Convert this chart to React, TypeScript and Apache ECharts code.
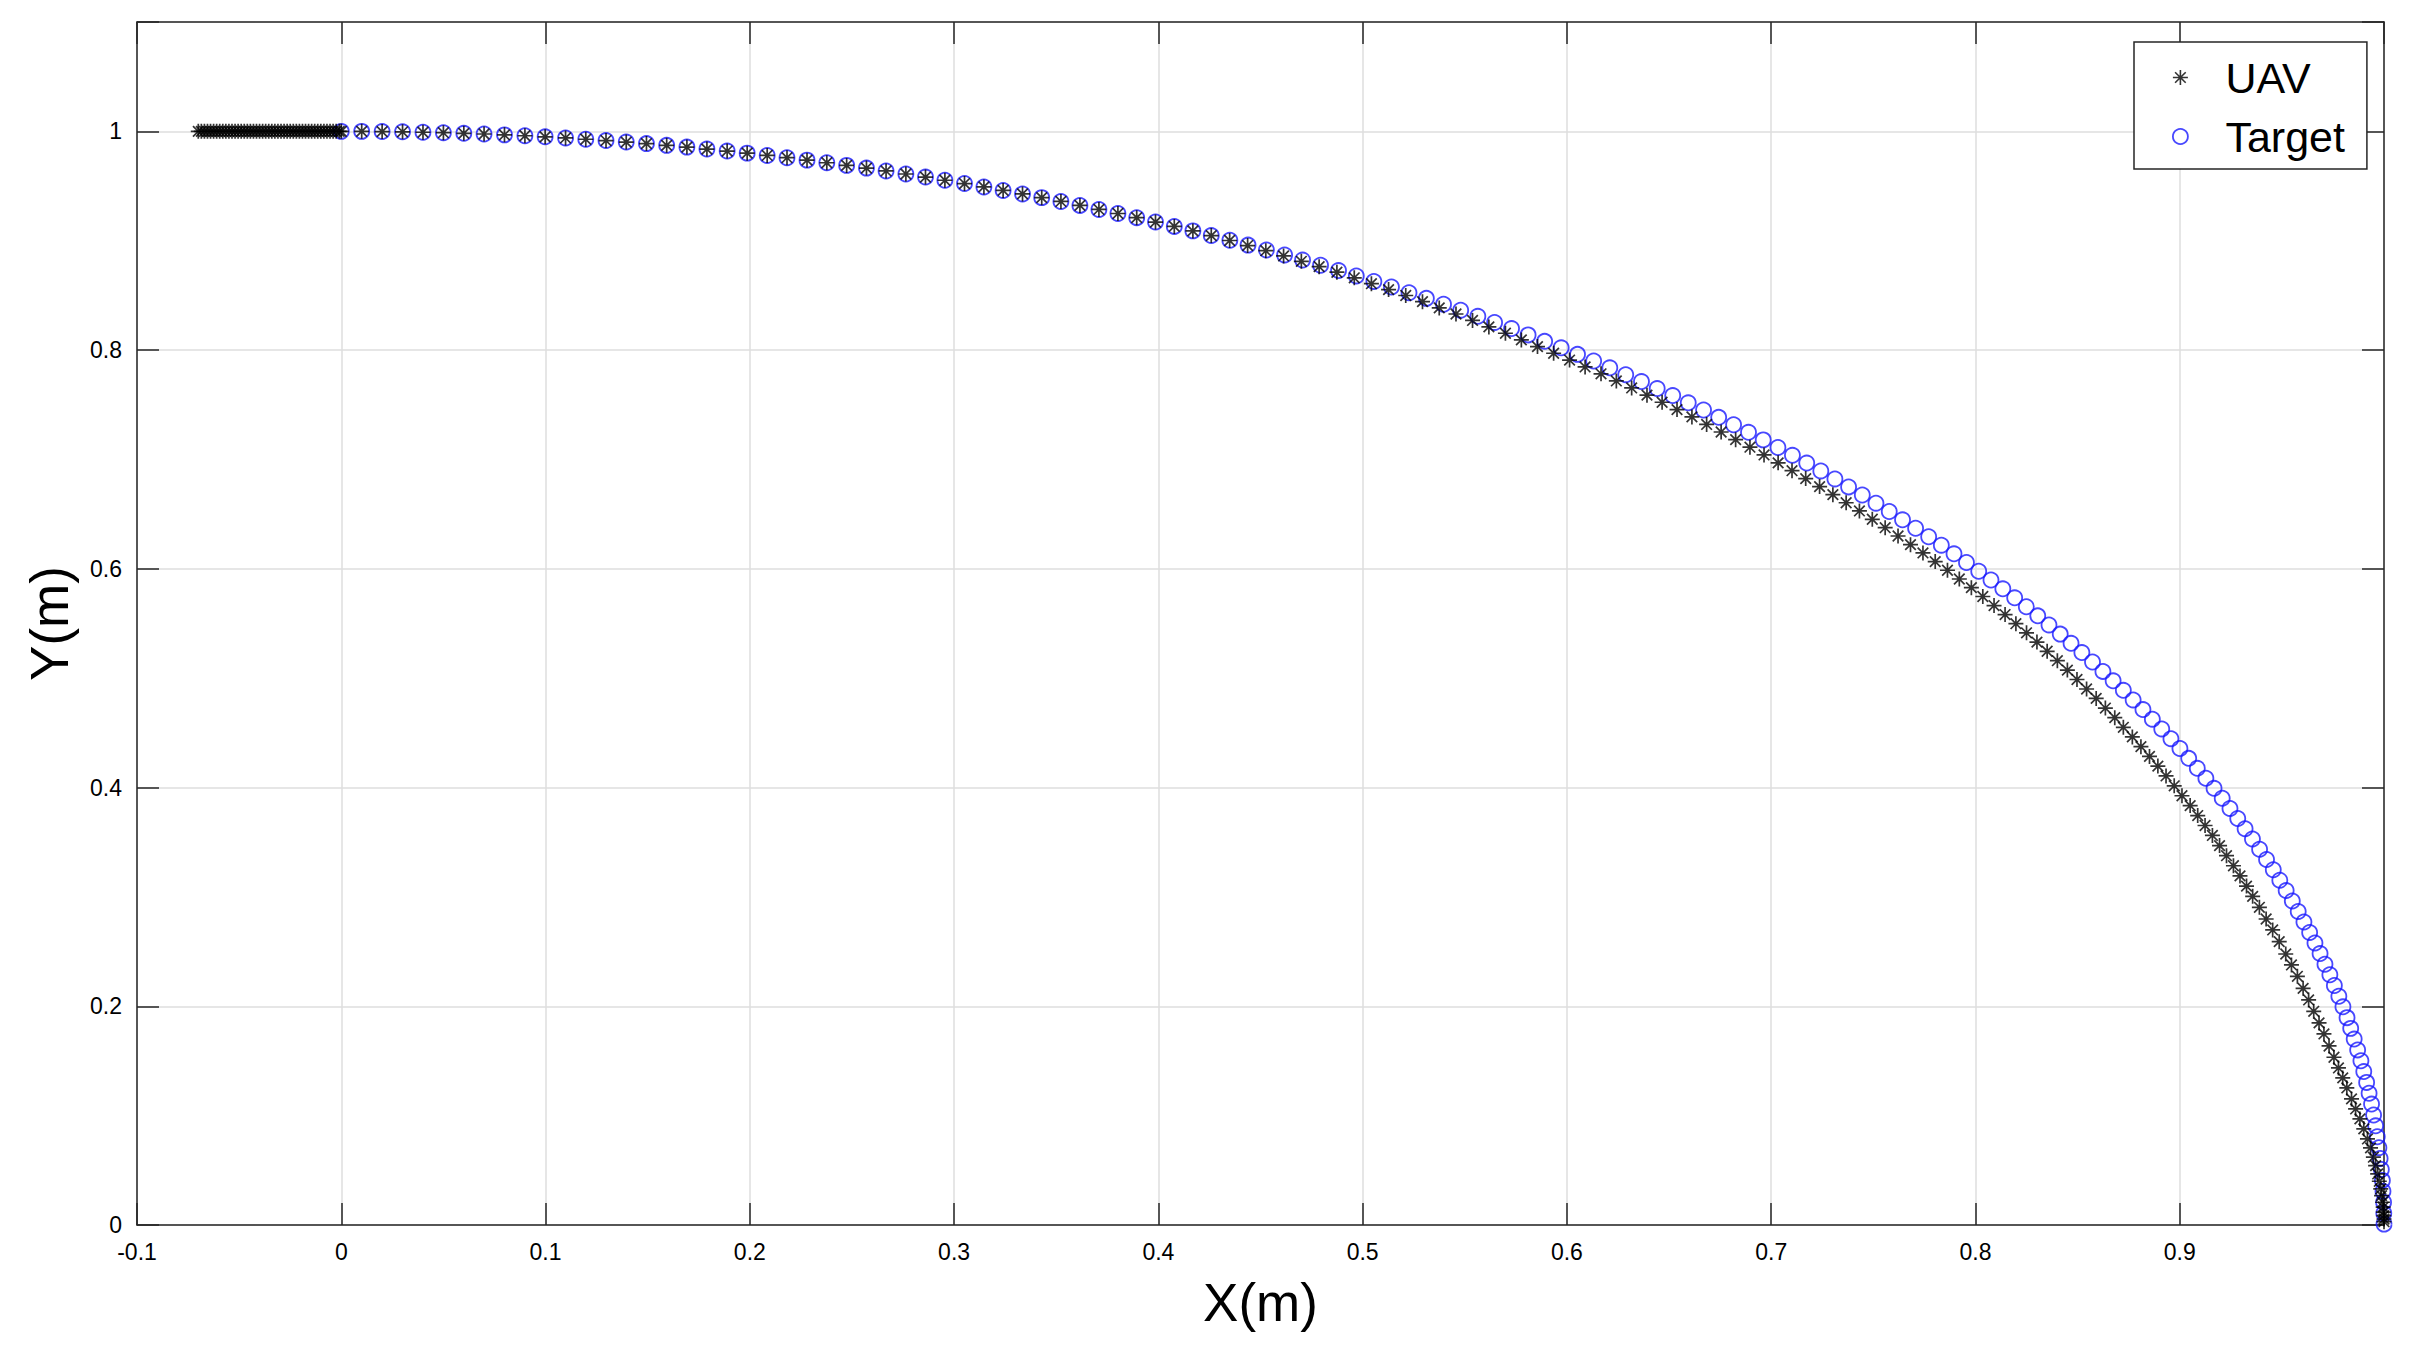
import React, { useEffect, useRef } from "react";
import * as echarts from "echarts";

// Target trajectory (blue circles)
const targetX = [
  0.0000, 0.0100, 0.0200, 0.0300, 0.0400, 0.0500, 0.0600, 0.0699, 0.0799, 0.0899,
  0.0998, 0.1098, 0.1197, 0.1296, 0.1395, 0.1494, 0.1593, 0.1692, 0.1790, 0.1889,
  0.1987, 0.2085, 0.2182, 0.2280, 0.2377, 0.2474, 0.2571, 0.2667, 0.2764, 0.2860,
  0.2955, 0.3051, 0.3146, 0.3240, 0.3335, 0.3429, 0.3523, 0.3616, 0.3709, 0.3802,
  0.3894, 0.3986, 0.4078, 0.4169, 0.4259, 0.4350, 0.4439, 0.4529, 0.4618, 0.4706,
  0.4794, 0.4882, 0.4969, 0.5055, 0.5141, 0.5227, 0.5312, 0.5396, 0.5480, 0.5564,
  0.5646, 0.5729, 0.5810, 0.5891, 0.5972, 0.6052, 0.6131, 0.6210, 0.6288, 0.6365,
  0.6442, 0.6518, 0.6594, 0.6669, 0.6743, 0.6816, 0.6889, 0.6961, 0.7033, 0.7104,
  0.7174, 0.7243, 0.7312, 0.7379, 0.7446, 0.7513, 0.7578, 0.7643, 0.7707, 0.7771,
  0.7833, 0.7895, 0.7956, 0.8016, 0.8076, 0.8134, 0.8192, 0.8249, 0.8305, 0.8360,
  0.8415, 0.8468, 0.8521, 0.8573, 0.8624, 0.8674, 0.8724, 0.8772, 0.8820, 0.8866,
  0.8912, 0.8957, 0.9001, 0.9044, 0.9086, 0.9128, 0.9168, 0.9208, 0.9246, 0.9284,
  0.9320, 0.9356, 0.9391, 0.9425, 0.9458, 0.9490, 0.9521, 0.9551, 0.9580, 0.9608,
  0.9636, 0.9662, 0.9687, 0.9711, 0.9735, 0.9757, 0.9779, 0.9799, 0.9819, 0.9837,
  0.9854, 0.9871, 0.9887, 0.9901, 0.9915, 0.9927, 0.9939, 0.9949, 0.9959, 0.9967,
  0.9975, 0.9981, 0.9987, 0.9992, 0.9995, 0.9998, 0.9999, 1.0000,
];
const targetY = [
  1.0000, 1.0000, 0.9998, 0.9996, 0.9992, 0.9988, 0.9982, 0.9976, 0.9968, 0.9960,
  0.9950, 0.9940, 0.9928, 0.9916, 0.9902, 0.9888, 0.9872, 0.9856, 0.9838, 0.9820,
  0.9801, 0.9780, 0.9759, 0.9737, 0.9713, 0.9689, 0.9664, 0.9638, 0.9610, 0.9582,
  0.9553, 0.9523, 0.9492, 0.9460, 0.9428, 0.9394, 0.9359, 0.9323, 0.9286, 0.9249,
  0.9211, 0.9171, 0.9131, 0.9090, 0.9047, 0.9004, 0.8960, 0.8915, 0.8870, 0.8823,
  0.8776, 0.8727, 0.8678, 0.8628, 0.8577, 0.8525, 0.8473, 0.8419, 0.8365, 0.8309,
  0.8253, 0.8197, 0.8139, 0.8080, 0.8021, 0.7961, 0.7900, 0.7838, 0.7775, 0.7712,
  0.7648, 0.7584, 0.7518, 0.7452, 0.7385, 0.7317, 0.7248, 0.7179, 0.7109, 0.7038,
  0.6967, 0.6895, 0.6822, 0.6749, 0.6675, 0.6600, 0.6524, 0.6448, 0.6371, 0.6293,
  0.6216, 0.6137, 0.6058, 0.5978, 0.5898, 0.5817, 0.5735, 0.5653, 0.5570, 0.5487,
  0.5403, 0.5319, 0.5234, 0.5148, 0.5062, 0.4976, 0.4889, 0.4801, 0.4713, 0.4625,
  0.4536, 0.4447, 0.4357, 0.4267, 0.4176, 0.4085, 0.3993, 0.3902, 0.3809, 0.3717,
  0.3624, 0.3530, 0.3436, 0.3342, 0.3248, 0.3153, 0.3058, 0.2963, 0.2867, 0.2771,
  0.2675, 0.2579, 0.2482, 0.2385, 0.2288, 0.2190, 0.2092, 0.1995, 0.1896, 0.1798,
  0.1700, 0.1601, 0.1502, 0.1403, 0.1304, 0.1205, 0.1106, 0.1006, 0.0907, 0.0807,
  0.0707, 0.0608, 0.0508, 0.0408, 0.0308, 0.0208, 0.0108, 0.0008,
];

// UAV approach segment (dense, along y = 1)
const uavApproachX = [
  -0.0700, -0.0685, -0.0670, -0.0655, -0.0640, -0.0625, -0.0610, -0.0595, -0.0580, -0.0565,
  -0.0550, -0.0535, -0.0520, -0.0505, -0.0490, -0.0475, -0.0460, -0.0445, -0.0430, -0.0415,
  -0.0400, -0.0385, -0.0370, -0.0355, -0.0340, -0.0325, -0.0310, -0.0295, -0.0280, -0.0265,
  -0.0250, -0.0235, -0.0220, -0.0205, -0.0190, -0.0175, -0.0160, -0.0145, -0.0130, -0.0115,
  -0.0100, -0.0085, -0.0070, -0.0055, -0.0040, -0.0025, -0.0010,
];
const uavApproachY = [
  1.0, 1.0, 1.0, 1.0, 1.0, 1.0, 1.0, 1.0, 1.0, 1.0,
  1.0, 1.0, 1.0, 1.0, 1.0, 1.0, 1.0, 1.0, 1.0, 1.0,
  1.0, 1.0, 1.0, 1.0, 1.0, 1.0, 1.0, 1.0, 1.0, 1.0,
  1.0, 1.0, 1.0, 1.0, 1.0, 1.0, 1.0, 1.0, 1.0, 1.0,
  1.0, 1.0, 1.0, 1.0, 1.0, 1.0, 1.0,
];

// UAV pursuit segment (black asterisks)
const uavArcX = [
  0.0000, 0.0100, 0.0200, 0.0300, 0.0400, 0.0500, 0.0600, 0.0699, 0.0799, 0.0899,
  0.0998, 0.1098, 0.1197, 0.1296, 0.1395, 0.1494, 0.1593, 0.1692, 0.1790, 0.1889,
  0.1987, 0.2085, 0.2182, 0.2280, 0.2377, 0.2474, 0.2571, 0.2667, 0.2764, 0.2860,
  0.2955, 0.3051, 0.3146, 0.3240, 0.3335, 0.3429, 0.3523, 0.3616, 0.3709, 0.3802,
  0.3894, 0.3986, 0.4078, 0.4169, 0.4259,
  0.4349, 0.4437, 0.4526, 0.4613, 0.4700, 0.4787, 0.4874, 0.4959, 0.5043, 0.5127,
  0.5211, 0.5293, 0.5375, 0.5457, 0.5538, 0.5618, 0.5699, 0.5777, 0.5856, 0.5935,
  0.6013, 0.6089, 0.6167, 0.6242, 0.6317, 0.6392, 0.6466, 0.6539, 0.6612, 0.6684,
  0.6755, 0.6826, 0.6896, 0.6965, 0.7034, 0.7102, 0.7169, 0.7237, 0.7302, 0.7367,
  0.7432, 0.7495, 0.7558, 0.7621, 0.7682, 0.7743, 0.7803, 0.7863, 0.7921, 0.7980,
  0.8036, 0.8091, 0.8145, 0.8198, 0.8250, 0.8301, 0.8351, 0.8401, 0.8450, 0.8497,
  0.8544, 0.8591, 0.8636, 0.8682, 0.8724, 0.8768, 0.8810, 0.8852, 0.8893, 0.8933,
  0.8973, 0.9011, 0.9051, 0.9088, 0.9124, 0.9160, 0.9195, 0.9229, 0.9263, 0.9295,
  0.9327, 0.9357,
  0.9390, 0.9423, 0.9455, 0.9487, 0.9519, 0.9547, 0.9576, 0.9604, 0.9631, 0.9656,
  0.9682, 0.9706, 0.9731, 0.9755, 0.9777, 0.9798, 0.9818, 0.9841, 0.9861, 0.9882,
  0.9901, 0.9919, 0.9934, 0.9948, 0.9959, 0.9969, 0.9977, 0.9984, 0.9988, 0.9993,
  0.9996, 0.9997, 0.9999, 1.0000, 1.0000,
];
const uavArcY = [
  1.0000, 1.0000, 0.9998, 0.9996, 0.9992, 0.9988, 0.9982, 0.9976, 0.9968, 0.9960,
  0.9950, 0.9940, 0.9928, 0.9916, 0.9902, 0.9888, 0.9872, 0.9856, 0.9838, 0.9820,
  0.9801, 0.9780, 0.9759, 0.9737, 0.9713, 0.9689, 0.9664, 0.9638, 0.9610, 0.9582,
  0.9553, 0.9523, 0.9492, 0.9460, 0.9428, 0.9394, 0.9359, 0.9323, 0.9286, 0.9249,
  0.9211, 0.9171, 0.9131, 0.9090, 0.9047,
  0.9002, 0.8956, 0.8909, 0.8861, 0.8812, 0.8763, 0.8712, 0.8661, 0.8607, 0.8553,
  0.8499, 0.8443, 0.8386, 0.8330, 0.8271, 0.8212, 0.8154, 0.8093, 0.8032, 0.7971,
  0.7909, 0.7846, 0.7783, 0.7718, 0.7654, 0.7588, 0.7523, 0.7456, 0.7389, 0.7320,
  0.7251, 0.7181, 0.7112, 0.7041, 0.6969, 0.6897, 0.6825, 0.6752, 0.6678, 0.6604,
  0.6529, 0.6453, 0.6376, 0.6300, 0.6221, 0.6145, 0.6066, 0.5987, 0.5907, 0.5828,
  0.5747, 0.5664, 0.5582, 0.5498, 0.5415, 0.5330, 0.5246, 0.5160, 0.5074, 0.4988,
  0.4901, 0.4815, 0.4727, 0.4639, 0.4551, 0.4463, 0.4374, 0.4285, 0.4196, 0.4106,
  0.4016, 0.3925, 0.3835, 0.3744, 0.3653, 0.3562, 0.3469, 0.3377, 0.3285, 0.3192,
  0.3099, 0.3005,
  0.2905, 0.2798, 0.2698, 0.2591, 0.2478, 0.2378, 0.2274, 0.2164, 0.2058, 0.1954,
  0.1848, 0.1747, 0.1637, 0.1534, 0.1436, 0.1345, 0.1253, 0.1153, 0.1061, 0.0970,
  0.0879, 0.0787, 0.0705, 0.0620, 0.0543, 0.0467, 0.0400, 0.0330, 0.0269, 0.0208,
  0.0163, 0.0117, 0.0086, 0.0055, 0.0030,
];

const seriesNames = ["UAV", "Target"];
const xRange = [-0.1, 1.0];
const yRange = [0, 1.1];
const xStep = 0.1;
const yStep = 0.2;

const ASTERISK =
  "path://M0,-10L0,10M-10,0L10,0M-7.07,-7.07L7.07,7.07M-7.07,7.07L7.07,-7.07";
const FONT = "'Liberation Sans', Arial, Helvetica, sans-serif";
const AXIS_COLOR = "#262626";
const BLUE = "#1a1aff";
const BLACK = "#000000";

export default function App() {
  const ref = useRef<HTMLDivElement>(null);

  useEffect(() => {
    if (!ref.current) return;
    const chart = echarts.init(ref.current, null, { renderer: "svg" });

    const target = targetX.map((x, i) => [x, targetY[i]]);
    const uavXs = uavApproachX.concat(uavArcX);
    const uavYs = uavApproachY.concat(uavArcY);
    const uav = uavXs.map((x, i) => [x, uavYs[i]]);

    const axisLine = {
      show: true,
      onZero: false,
      lineStyle: { color: AXIS_COLOR, width: 1.5 },
    };
    const axisTick = {
      show: true,
      inside: true,
      length: 22,
      lineStyle: { color: AXIS_COLOR, width: 1.5 },
    };
    const splitLine = { show: true, lineStyle: { color: "#dedede", width: 1.5 } };
    const fmt = (limit: number) => (v: number) =>
      v > limit ? "" : String(Math.round(v * 10) / 10);

    chart.setOption({
      animation: false,
      backgroundColor: "#ffffff",
      grid: { left: 137, right: 28, top: 22, bottom: 139, containLabel: false },
      legend: {
        orient: "vertical",
        left: 2134,
        top: 42,
        padding: [14, 22, 11, 38],
        itemWidth: 80,
        itemHeight: 15,
        itemGap: 16,
        backgroundColor: "#ffffff",
        borderColor: AXIS_COLOR,
        borderWidth: 1.5,
        selectedMode: false,
        textStyle: { fontSize: 43, color: "#000", fontFamily: FONT },
        data: [
          {
            name: seriesNames[0],
            icon: ASTERISK,
            itemStyle: { color: "rgba(0,0,0,0)", borderColor: BLACK, borderWidth: 1.6 },
          },
          {
            name: seriesNames[1],
            icon: "circle",
            itemStyle: { color: "rgba(0,0,0,0)", borderColor: BLUE, borderWidth: 1.8 },
          },
        ],
      },
      xAxis: [
        {
          type: "value",
          position: "bottom",
          min: xRange[0],
          max: xRange[1],
          interval: xStep,
          axisLine,
          axisTick,
          splitLine,
          axisLabel: {
            margin: 15,
            fontSize: 23,
            color: "#000",
            fontFamily: FONT,
            formatter: fmt(0.95),
          },
          name: "X(m)",
          nameLocation: "middle",
          nameGap: 51,
          nameTextStyle: { fontSize: 53, color: "#000", fontFamily: FONT },
        },
        {
          type: "value",
          position: "top",
          min: xRange[0],
          max: xRange[1],
          interval: xStep,
          axisLine,
          axisTick,
          axisLabel: { show: false },
          splitLine: { show: false },
        },
      ],
      yAxis: [
        {
          type: "value",
          position: "left",
          min: yRange[0],
          max: yRange[1],
          interval: yStep,
          axisLine,
          axisTick,
          splitLine,
          axisLabel: {
            margin: 15,
            fontSize: 23,
            color: "#000",
            fontFamily: FONT,
            formatter: fmt(1.05),
          },
          name: "Y(m)",
          nameLocation: "middle",
          nameGap: 61,
          nameTextStyle: { fontSize: 53, color: "#000", fontFamily: FONT },
        },
        {
          type: "value",
          position: "right",
          min: yRange[0],
          max: yRange[1],
          interval: yStep,
          axisLine,
          axisTick,
          axisLabel: { show: false },
          splitLine: { show: false },
        },
      ],
      series: [
        {
          name: seriesNames[1],
          type: "scatter",
          data: target,
          symbol: "circle",
          symbolSize: 15,
          clip: false,
          itemStyle: { color: "rgba(0,0,0,0)", borderColor: BLUE, borderWidth: 1.8 },
          emphasis: { disabled: true },
        },
        {
          name: seriesNames[0],
          type: "scatter",
          data: uav,
          symbol: ASTERISK,
          symbolSize: 15,
          clip: false,
          itemStyle: { color: "rgba(0,0,0,0)", borderColor: BLACK, borderWidth: 1.7 },
          emphasis: { disabled: true },
        },
      ],
    });

    return () => {
      chart.dispose();
    };
  }, []);

  return (
    <div
      ref={ref}
      style={{ position: "fixed", left: 0, top: 0, width: 2412, height: 1364, background: "#fff" }}
    />
  );
}
